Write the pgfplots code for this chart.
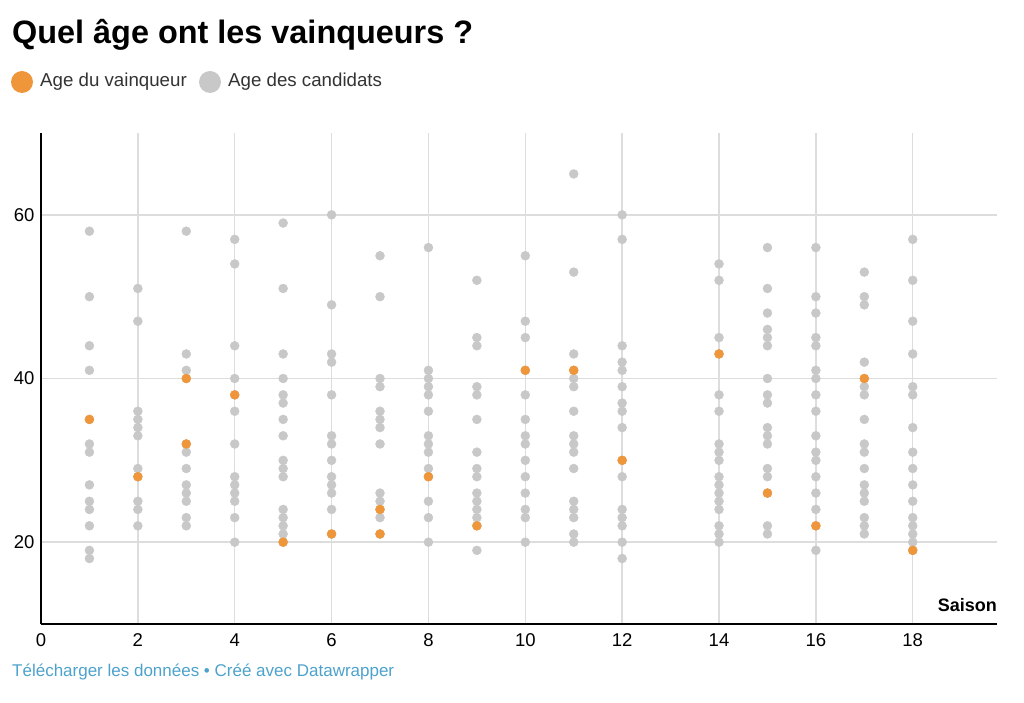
\documentclass[border=0pt]{standalone}
\usepackage{fontspec}
\setmainfont{Liberation Sans}
\usepackage{pgfplots}
\pgfplotsset{compat=1.18}

\definecolor{dotorange}{HTML}{EF963B}
\definecolor{dotgray}{HTML}{C8C8C8}
\definecolor{gridgray}{HTML}{DDDDDD}
\definecolor{linkblue}{HTML}{4DA2CC}
\definecolor{legtext}{HTML}{333333}

\begin{document}
\begin{tikzpicture}
\useasboundingbox (0pt,0pt) rectangle (1024pt,-703pt);

% title and legend
\node[anchor=base west, inner sep=0pt, font=\fontsize{32.4}{32}\selectfont\bfseries]
  at (12pt,-44pt) {Quel âge ont les vainqueurs ?};
\fill[dotorange] (22pt,-82pt) circle (11pt);
\node[anchor=west, inner sep=0pt, text=legtext, font=\fontsize{18.7}{19}\selectfont]
  at (40pt,-82pt) {Age du vainqueur};
\fill[dotgray] (210pt,-82pt) circle (11pt);
\node[anchor=west, inner sep=0pt, text=legtext, font=\fontsize{18.7}{19}\selectfont]
  at (228pt,-82pt) {Age des candidats};

\begin{axis}[
    at={(41pt,-624pt)}, anchor=south west,
    scale only axis, width=956pt, height=491pt,
    xmin=0, xmax=19.74, ymin=10, ymax=70,
    axis lines*=left,
    axis line style={-, draw=black, line width=2pt},
    xtick={0,2,...,18}, ytick={20,40,60},
    major tick length=0pt,
    grid=major,
    grid style={draw=gridgray, line width=1.5pt},
    tick label style={font=\fontsize{18.5}{18}\selectfont, text=black},
    /pgf/number format/assume math mode=true,
    xticklabel style={yshift=-6pt},
    yticklabel style={xshift=-3pt},
    clip=false,
]
% candidates
\addplot[only marks, mark=*, mark size=4.5pt, color=dotgray] coordinates {
 (1,58) (1,50) (1,44) (1,41) (1,35) (1,32) (1,31) (1,27) (1,25) (1,24) (1,22) (1,19) (1,18)
 (2,51) (2,47) (2,36) (2,35) (2,34) (2,33) (2,29) (2,28) (2,25) (2,24) (2,22)
 (3,58) (3,43) (3,41) (3,40) (3,32) (3,31) (3,29) (3,27) (3,26) (3,25) (3,23) (3,22)
 (4,57) (4,54) (4,44) (4,40) (4,38) (4,36) (4,32) (4,28) (4,27) (4,26) (4,25) (4,23) (4,20)
 (5,59) (5,51) (5,43) (5,40) (5,38) (5,37) (5,35) (5,33) (5,30) (5,29) (5,28) (5,24) (5,23) (5,22) (5,21) (5,20)
 (6,60) (6,49) (6,43) (6,42) (6,38) (6,33) (6,32) (6,30) (6,28) (6,27) (6,26) (6,24) (6,21)
 (7,55) (7,50) (7,40) (7,39) (7,36) (7,35) (7,34) (7,32) (7,26) (7,25) (7,24) (7,23) (7,21)
 (8,56) (8,41) (8,40) (8,39) (8,38) (8,36) (8,33) (8,32) (8,31) (8,29) (8,28) (8,25) (8,23) (8,20)
 (9,52) (9,45) (9,44) (9,39) (9,38) (9,35) (9,31) (9,29) (9,28) (9,26) (9,25) (9,24) (9,23) (9,22) (9,19)
 (10,55) (10,47) (10,45) (10,41) (10,38) (10,35) (10,33) (10,32) (10,30) (10,28) (10,26) (10,24) (10,23) (10,20)
 (11,65) (11,53) (11,43) (11,41) (11,40) (11,39) (11,36) (11,33) (11,32) (11,31) (11,29) (11,25) (11,24) (11,23) (11,21) (11,20)
 (12,60) (12,57) (12,44) (12,42) (12,41) (12,39) (12,37) (12,36) (12,34) (12,30) (12,28) (12,24) (12,23) (12,22) (12,20) (12,18)
 (14,54) (14,52) (14,45) (14,43) (14,38) (14,36) (14,32) (14,31) (14,30) (14,28) (14,27) (14,26) (14,25) (14,24) (14,22) (14,21) (14,20)
 (15,56) (15,51) (15,48) (15,46) (15,45) (15,44) (15,40) (15,38) (15,37) (15,34) (15,33) (15,32) (15,29) (15,28) (15,26) (15,22) (15,21)
 (16,56) (16,50) (16,48) (16,45) (16,44) (16,41) (16,40) (16,38) (16,36) (16,33) (16,31) (16,30) (16,28) (16,26) (16,24) (16,22) (16,19)
 (17,53) (17,50) (17,49) (17,42) (17,40) (17,39) (17,38) (17,35) (17,32) (17,31) (17,29) (17,27) (17,26) (17,25) (17,23) (17,22) (17,21)
 (18,57) (18,52) (18,47) (18,43) (18,39) (18,38) (18,34) (18,31) (18,29) (18,27) (18,25) (18,23) (18,22) (18,21) (18,20) (18,19)
};
% winners
\addplot[only marks, mark=*, mark size=4.5pt, color=dotorange] coordinates {
 (1,35) (2,28) (3,40) (3,32) (4,38) (5,20) (6,21) (7,24) (7,21) (8,28) (9,22)
 (10,41) (11,41) (12,30) (14,43) (15,26) (16,22) (17,40) (18,19)
};
\end{axis}

\node[anchor=base east, inner sep=0pt, font=\fontsize{18}{18}\selectfont\bfseries]
  at (997pt,-611pt) {Saison};
\node[anchor=base west, inner sep=0pt, text=linkblue, font=\fontsize{17}{17}\selectfont]
  at (12pt,-676pt) {Télécharger les données • Créé avec Datawrapper};
\end{tikzpicture}
\end{document}
